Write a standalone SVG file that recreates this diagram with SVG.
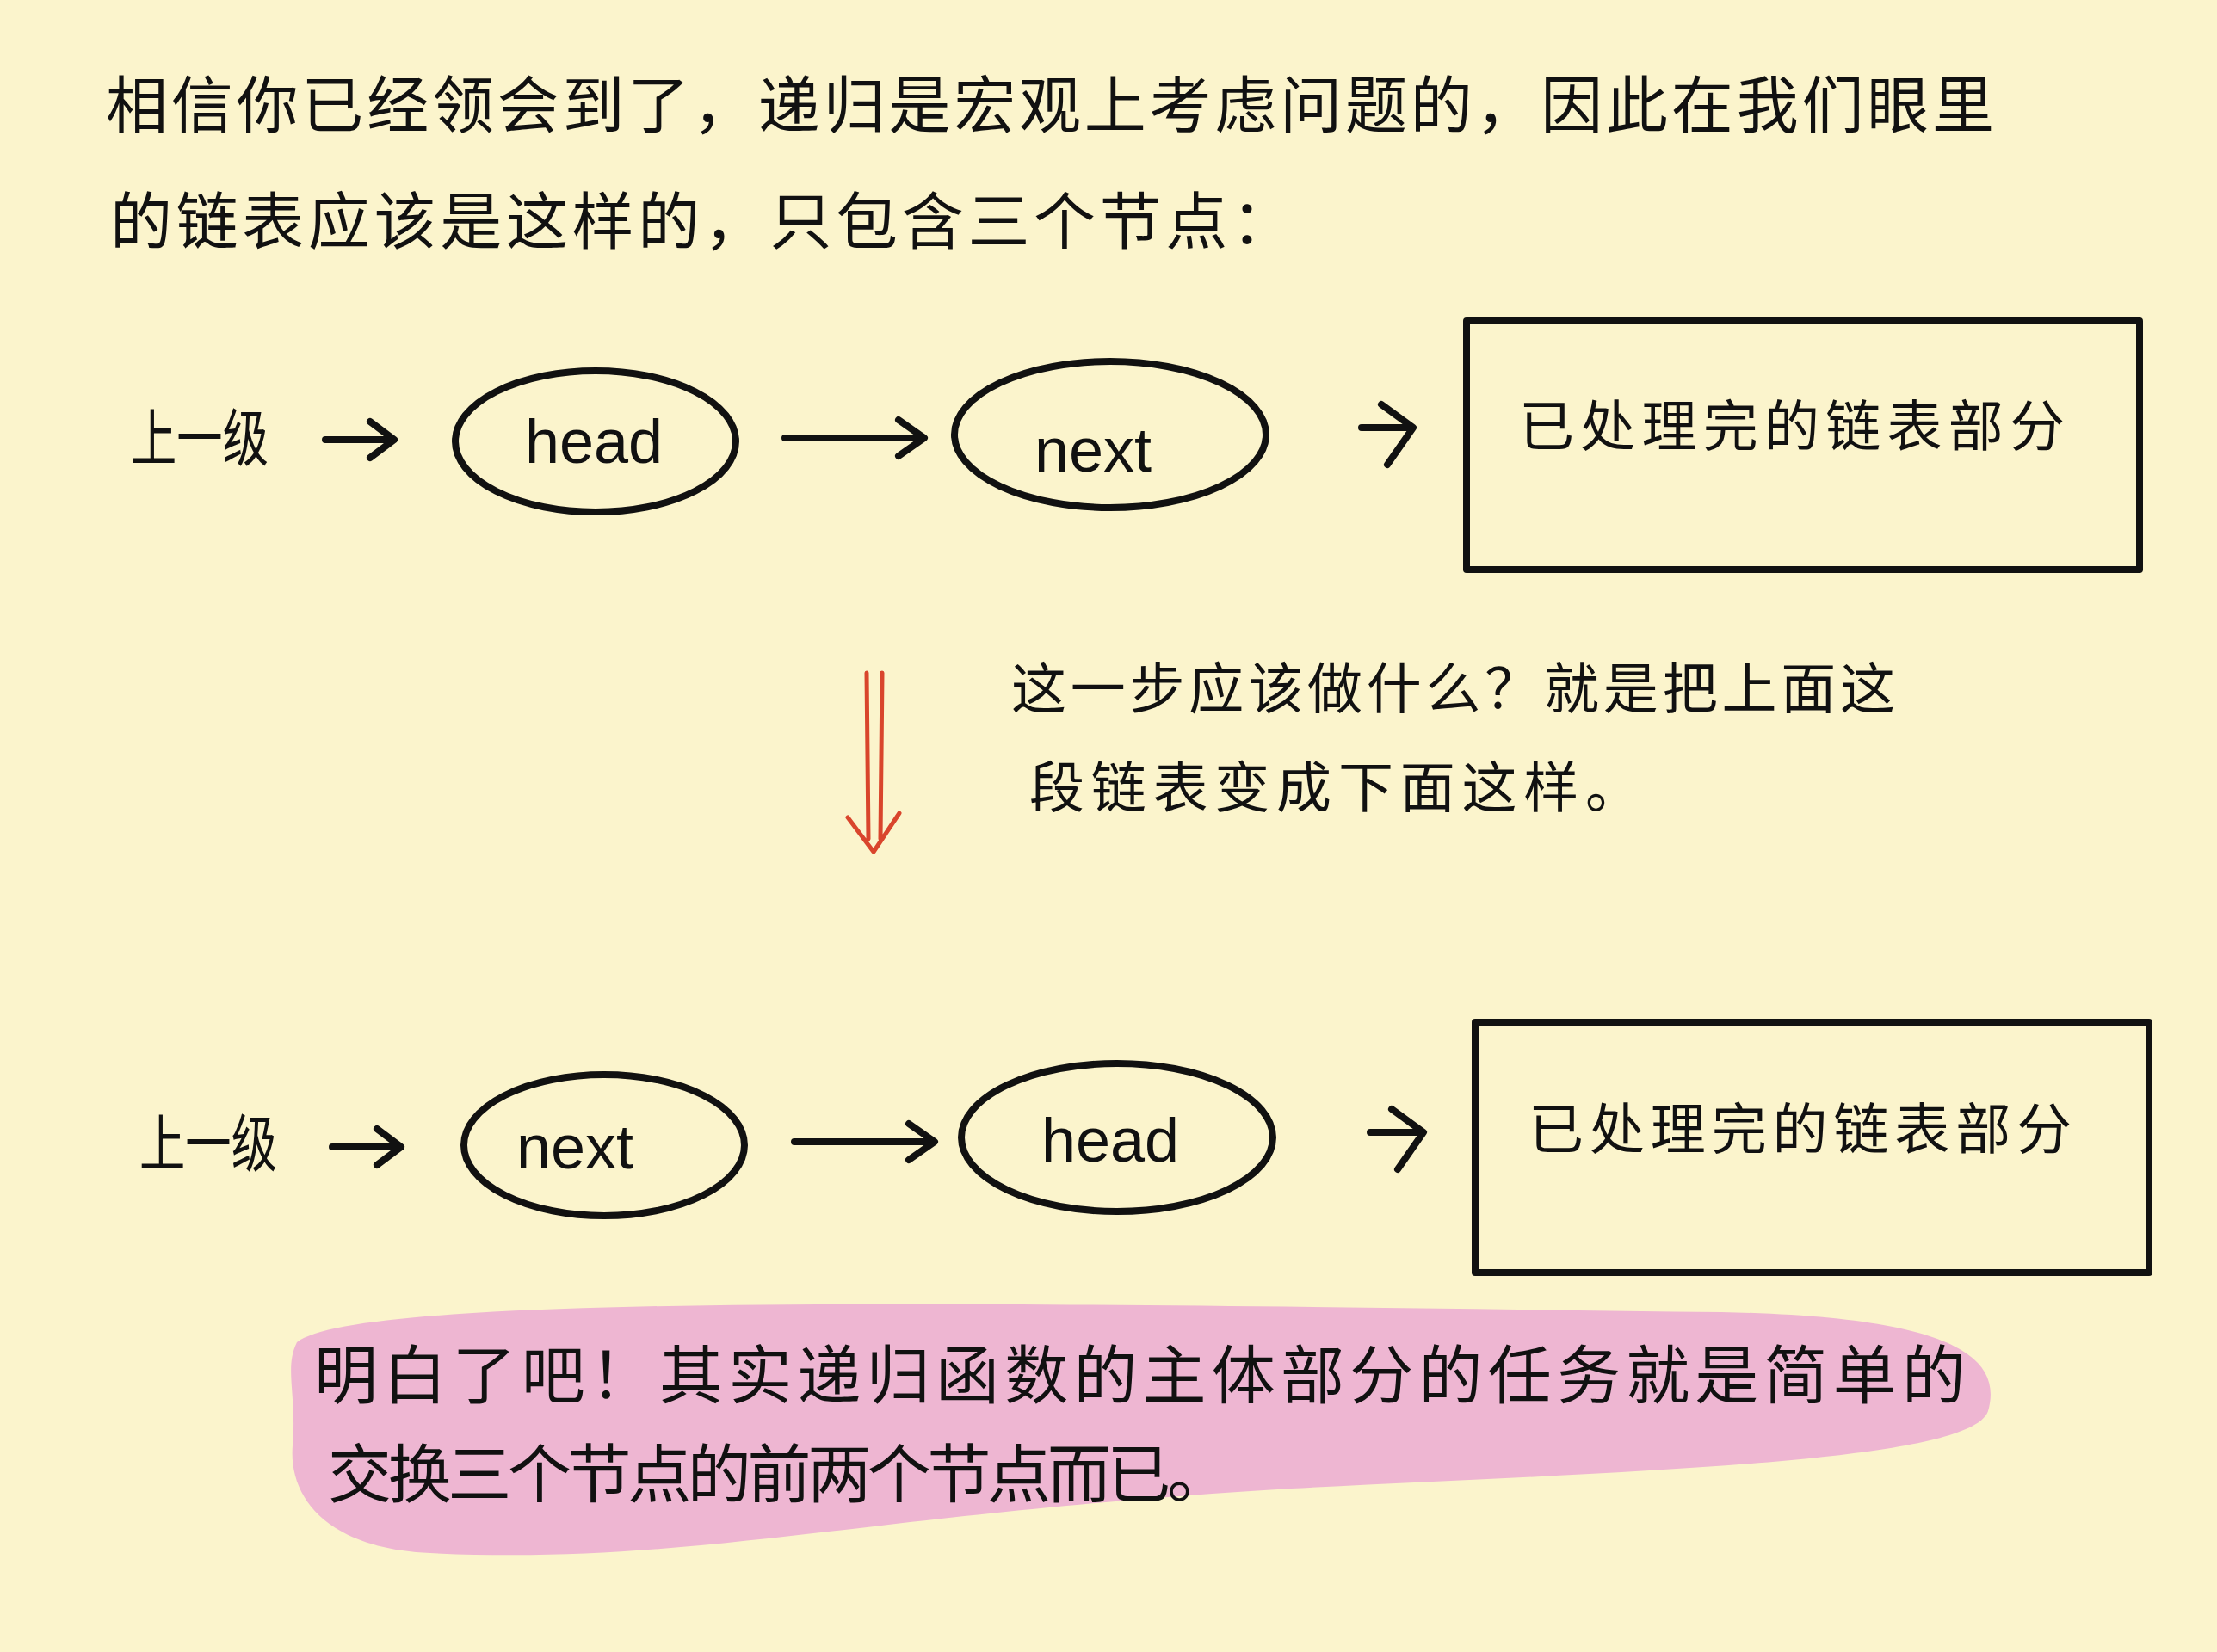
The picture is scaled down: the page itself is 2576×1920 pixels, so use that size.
<svg xmlns="http://www.w3.org/2000/svg" width="2576" height="1920" viewBox="0 0 2576 1920">
<defs>
<style>
.t{font-family:"Liberation Sans","Noto Sans CJK SC",sans-serif;fill:#111}
.big{font-size:72px}
.mid{font-size:64px}
.sum{font-size:74px}
.s{fill:none;stroke:#111;stroke-width:8;stroke-linecap:round;stroke-linejoin:round}
.lbl{font-family:"Liberation Sans",sans-serif;font-size:72px;fill:#111;text-anchor:middle}
</style>
</defs>
<rect width="2576" height="1920" fill="#fbf4cc"/>
<g id="intro">
<text class="t big" x="123" y="148" textLength="2194" lengthAdjust="spacing">相信你已经领会到了，递归是宏观上考虑问题的，因此在我们眼里</text>
<text class="t big" x="128" y="283" textLength="1375" lengthAdjust="spacing">的链表应该是这样的，只包含三个节点：</text>
</g>
<g id="connectors">
<path class="s" d="M378,511 L456,511 M430,490 L458,511 L430,532"/>
<path class="s" d="M912,509 L1072,509 M1044,488 L1074,509 L1044,530"/>
<path class="s" d="M1582,497 L1640,497 M1605,470 L1642,497 L1612,540"/>
<path class="s" d="M386,1333 L464,1333 M438,1312 L466,1333 L438,1354"/>
<path class="s" d="M923,1327 L1084,1327 M1056,1306 L1086,1327 L1056,1348"/>
<path class="s" d="M1592,1316 L1652,1316 M1617,1289 L1654,1316 L1624,1359"/>
<path d="M1007,782 L1009,975 M1025,782 L1023,975 M985,950 L1015,990 L1045,945" fill="none" stroke="#d9452c" stroke-width="5" stroke-linecap="round" stroke-linejoin="round"/>
</g>
<g id="lvl1"><text class="t big" x="152" y="535" textLength="160" lengthAdjust="spacingAndGlyphs">上一级</text></g>
<g id="head1"><ellipse class="s" cx="692" cy="513" rx="163" ry="82"/><text class="lbl" x="690" y="538">head</text></g>
<g id="next1"><ellipse class="s" cx="1290" cy="505" rx="181" ry="85"/><text class="lbl" x="1270" y="548">next</text></g>
<g id="done1"><rect class="s" x="1704" y="373" width="782" height="289"/><text class="t mid" x="1765" y="518" textLength="634" lengthAdjust="spacing">已处理完的链表部分</text></g>
<g id="note"><text class="t mid" x="1175" y="823" textLength="1027" lengthAdjust="spacing">这一步应该做什么？就是把上面这</text><text class="t mid" x="1196" y="938" textLength="710" lengthAdjust="spacing">段链表变成下面这样。</text></g>
<g id="lvl2"><text class="t big" x="162" y="1355" textLength="160" lengthAdjust="spacingAndGlyphs">上一级</text></g>
<g id="next2"><ellipse class="s" cx="702" cy="1331" rx="163" ry="82"/><text class="lbl" x="668" y="1358">next</text></g>
<g id="head2"><ellipse class="s" cx="1298" cy="1322" rx="181" ry="86"/><text class="lbl" x="1290" y="1350">head</text></g>
<g id="done2"><rect class="s" x="1714" y="1188" width="783" height="291"/><text class="t mid" x="1776" y="1335" textLength="631" lengthAdjust="spacing">已处理完的链表部分</text></g>
<g id="summary">
<path d="M345,1560 C420,1500 1200,1515 2000,1525 C2250,1530 2330,1570 2310,1640 C2290,1700 1900,1710 1500,1730 C1000,1760 800,1820 500,1805 C380,1800 335,1740 340,1680 C345,1620 330,1590 345,1560 Z" fill="#eeb6d2"/>
<text class="t sum" x="365" y="1625" textLength="1919" lengthAdjust="spacing">明白了吧！其实递归函数的主体部分的任务就是简单的</text>
<text class="t sum" x="381" y="1740" textLength="1049" lengthAdjust="spacing">交换三个节点的前两个节点而已。</text>
</g>
</svg>
